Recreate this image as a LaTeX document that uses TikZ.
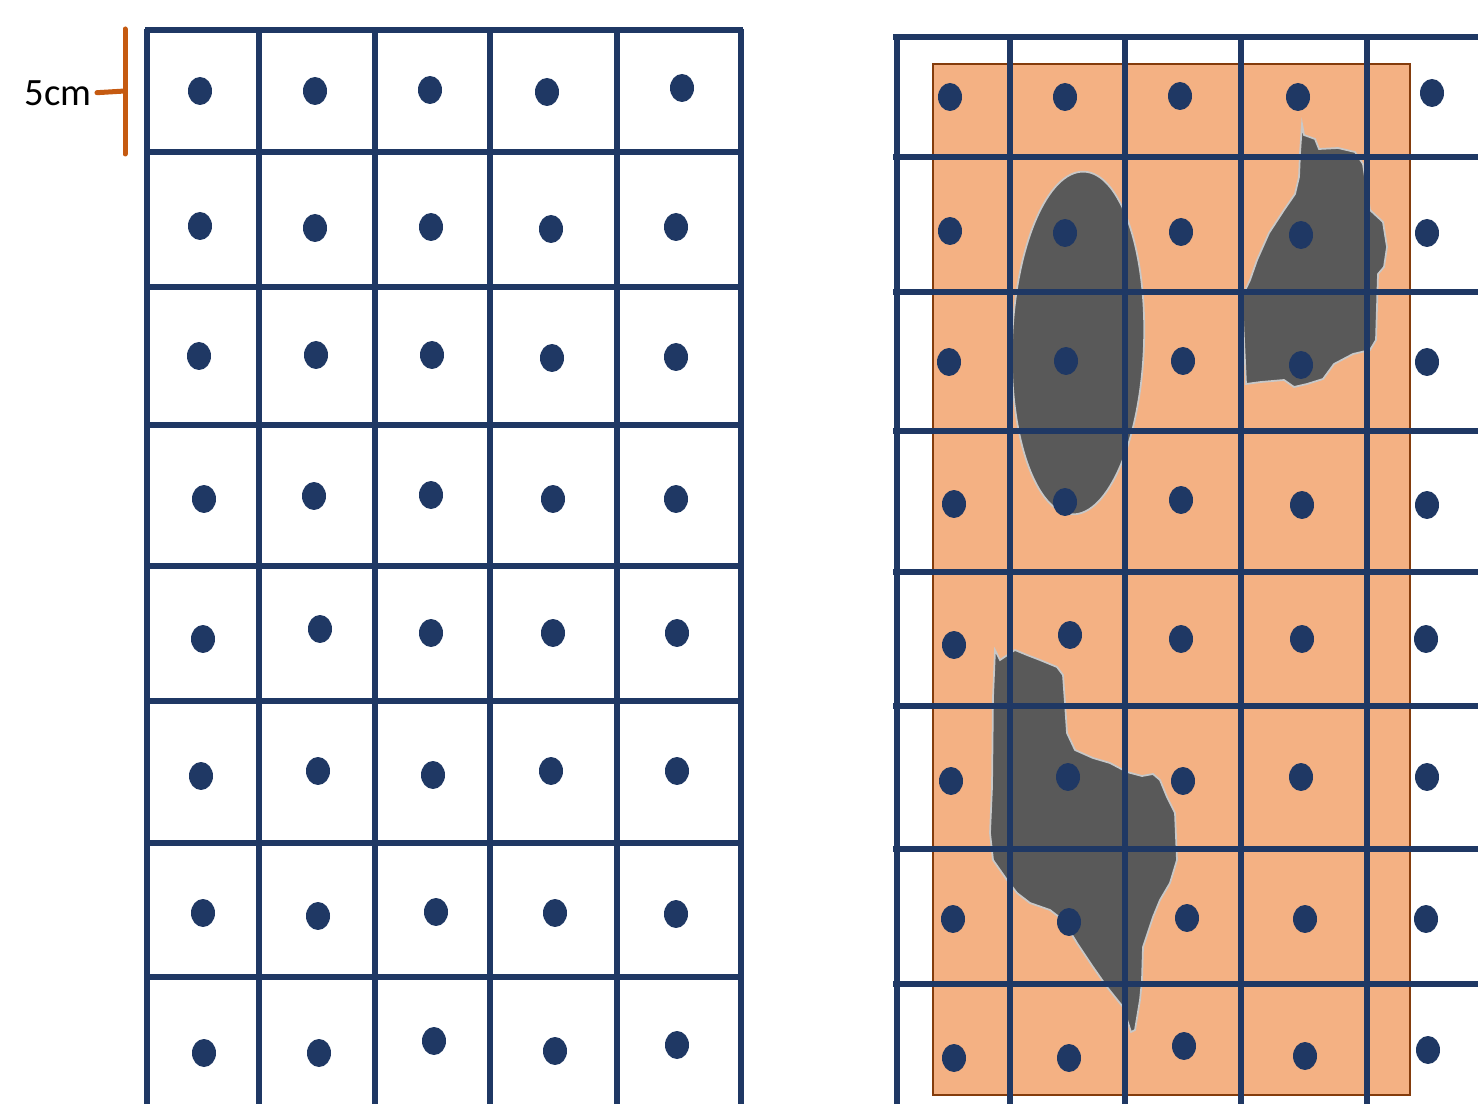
\documentclass[tikz,border=0pt]{standalone}
\usepackage{fontspec}
\setmainfont{Carlito}
\definecolor{gridnavy}{HTML}{1F3864}
\definecolor{soilorange}{HTML}{F4B183}
\definecolor{soiledge}{HTML}{843C0C}
\definecolor{voidgray}{HTML}{595959}
\definecolor{voidedge}{HTML}{C8C8C8}
\definecolor{scaleorange}{HTML}{C55A11}
\usetikzlibrary{positioning}

\begin{document}
\begin{tikzpicture}[x=0.02cm, y=-0.02cm,
  gridline/.style={draw=gridnavy, line width=0.12cm},
  probe/.style={fill=gridnavy},
  zone/.style={fill=soilorange, draw=soiledge, line width=0.035cm},
  void/.style={fill=voidgray, draw=voidedge, line width=0.035cm},
  scalebar/.style={draw=scaleorange, line width=0.1cm, line cap=round},
  lbl/.style={font=\fontsize{22}{26}\selectfont, inner sep=0pt}
]
\useasboundingbox (0,0) rectangle (1478,1104);

% scale mark
\node[lbl, anchor=east] (cell) at (92,93) {5cm};
\coordinate (brtop) at (125,29);
\coordinate (brbot) at (125,154);
\coordinate (brmid) at (125,91);
\draw[scalebar] (brtop) -- (brbot);
\draw[scalebar, shorten <=0.1cm] (cell.east) -- (brmid);

% left grid
\foreach \x in {147,259,375,490,617,741}
  \draw[gridline] (\x,29) -- (\x,1104);
\foreach \y in {30,152,287,425,566,701,843,977}
  \draw[gridline] (145,\y) -- (743,\y);
\foreach \x/\y in {200/91,315/91,430/90,547/92,682/88,
                   200/226,315/228,431/227,551/229,676/227,
                   199/356,316/355,432/355,552/358,676/357,
                   204/499,314/496,431/495,553/499,676/499,
                   203/639,320/629,431/633,553/633,677/633,
                   201/776,318/771,433/775,551/771,677/771,
                   203/913,318/916,436/912,555/913,676/914,
                   204/1053,319/1053,434/1041,555/1051,677/1045}
  \fill[probe] (\x,\y) ellipse [x radius=0.24cm, y radius=0.28cm];

% right grid: zone and voids
\draw[zone] (933,64) rectangle (1410,1095);
\draw[void, rotate around={-2:(1078,343)}] (1078,343) ellipse [x radius=1.32cm, y radius=3.43cm];
\draw[void] (1302,124) -- (1304,135) -- (1315,139) -- (1319,149) -- (1338,148)
  -- (1355,152) -- (1363,164) -- (1370,210) -- (1383,222) -- (1387,247)
  -- (1384,267) -- (1378,274) -- (1376,340) -- (1370,350) -- (1353,354)
  -- (1334,364) -- (1323,379) -- (1307,384) -- (1294,387) -- (1284,380)
  -- (1261,382) -- (1246,384) -- (1242,297) -- (1250,280) -- (1257,260)
  -- (1269,233) -- (1284,210) -- (1295,194) -- (1299,177) -- (1300,153) -- cycle;
\draw[void] (995,650) -- (1000,660) -- (1015,650) -- (1027,655) -- (1040,660)
  -- (1057,667) -- (1063,675) -- (1065,703) -- (1067,733) -- (1075,750)
  -- (1093,758) -- (1110,763) -- (1127,772) -- (1142,776) -- (1153,774)
  -- (1160,780) -- (1167,797) -- (1175,813) -- (1177,860) -- (1170,883)
  -- (1160,900) -- (1153,917) -- (1143,947) -- (1142,980) -- (1140,1000)
  -- (1135,1030) -- (1131,1032) -- (1123,1007) -- (1107,987) -- (1093,967)
  -- (1077,943) -- (1063,920) -- (1050,910) -- (1030,903) -- (1017,893)
  -- (1007,880) -- (993,860) -- (990,833) -- (992,787) -- (993,697) -- cycle;

% right grid
\foreach \x in {897,1010,1125,1241,1367}
  \draw[gridline] (\x,35) -- (\x,1104);
\foreach \y in {37,157,292,431,572,706,849,984}
  \draw[gridline] (893,\y) -- (1478,\y);
\foreach \x/\y in {950/97,1065/97,1180/96,1298/97,1432/93,
                   950/231,1065/233,1181/232,1301/235,1427/233,
                   949/362,1066/361,1183/361,1301/365,1427/362,
                   954/504,1065/502,1181/500,1302/505,1427/505,
                   954/645,1070/635,1181/639,1302/639,1426/639,
                   951/781,1068/777,1183/781,1301/777,1427/777,
                   953/919,1069/922,1187/918,1305/919,1426/919,
                   954/1058,1069/1058,1184/1046,1305/1056,1428/1050}
  \fill[probe] (\x,\y) ellipse [x radius=0.24cm, y radius=0.28cm];
\end{tikzpicture}
\end{document}
